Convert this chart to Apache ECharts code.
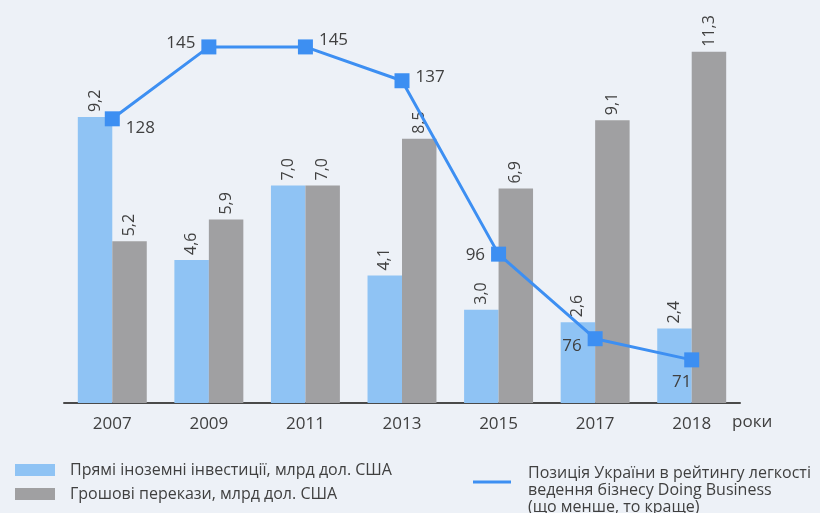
<!DOCTYPE html>
<html>
<head>
<meta charset="utf-8">
<script src="https://cdn.jsdelivr.net/npm/echarts@6/dist/echarts.min.js"></script>
<style>
  html, body { margin: 0; padding: 0; background: #edf1f7; }
  #chart { width: 820px; height: 513px; }
</style>
</head>
<body>
<div id="chart"></div>
<script>
  // роки
  const years = ["2007", "2009", "2011", "2013", "2015", "2017", "2018"];
  // прямі іноземні інвестиції, млрд дол. США
  const fdi = [9.2, 4.6, 7.0, 4.1, 3.0, 2.6, 2.4];
  // грошові перекази, млрд дол. США
  const remittances = [5.2, 5.9, 7.0, 8.5, 6.9, 9.1, 11.3];
  // позиція в рейтингу Doing Business
  const ranking = [128, 145, 145, 137, 96, 76, 71];

  const nameFdi = "Прямі іноземні інвестиції, млрд дол. США";
  const nameRem = "Грошові перекази, млрд дол. США";
  const nameRank = "Позиція України в рейтингу легкості\nведення бізнесу Doing Business\n(що менше, то краще)";

  const txt = "#404040";
  const font = "Open Sans";

  const comma = v => v.toFixed(1).replace(".", ",");

  const barLabel = {
    show: true,
    position: "top",
    rotate: 90,
    align: "left",
    verticalAlign: "middle",
    distance: 5,
    color: txt,
    fontFamily: font,
    fontSize: 16,
    formatter: p => comma(p.value),
  };

  // розміщення підписів лінії біля маркерів
  const lineLabelPos = [
    { position: "right", offset: [0, 9] },
    { position: "left", offset: [0, -4] },
    { position: "right", offset: [0, -7] },
    { position: "right", offset: [0, -4] },
    { position: "left", offset: [0, 1] },
    { position: "left", offset: [0, 7] },
    { position: "bottom", offset: [-10, 0] },
  ];

  const legendText = { color: txt, fontSize: 16, fontFamily: font };
  const barLegend = (name, top) => ({
    left: 10,
    top: top,
    itemWidth: 40,
    itemHeight: 12,
    itemGap: 0,
    icon: "rect",
    data: [name],
    textStyle: Object.assign({ padding: [0, 0, 0, 10] }, legendText),
  });

  const chart = echarts.init(document.getElementById("chart"));
  chart.setOption({
    backgroundColor: "#edf1f7",
    animation: false,
    textStyle: { fontFamily: font },
    grid: { left: 64, right: 80, top: 30, bottom: 110, containLabel: false },
    legend: [
      barLegend(nameFdi, 457),
      barLegend(nameRem, 481),
      {
        left: 468,
        top: 443,
        itemWidth: 38,
        itemHeight: 3,
        icon: "rect",
        data: [nameRank],
        formatter: n => "\n" + n,
        textStyle: Object.assign({ lineHeight: 17, padding: [0, 0, 0, 12] }, legendText),
      },
    ],
    xAxis: {
      type: "category",
      data: years,
      axisLine: { lineStyle: { color: "#4a4a4a", width: 2 } },
      axisTick: { show: false },
      axisLabel: { color: txt, fontSize: 17, fontFamily: font, margin: 13 },
    },
    yAxis: [
      { type: "value", min: 0, max: 12, show: false },
      { type: "value", min: 60.8, max: 149, show: false },
    ],
    graphic: [
      {
        type: "text",
        left: 732,
        top: 414,
        style: { text: "роки", fill: txt, fontSize: 17, fontFamily: font },
      },
    ],
    series: [
      {
        name: nameFdi,
        type: "bar",
        data: fdi,
        barGap: "0%",
        barCategoryGap: "28.6%",
        itemStyle: { color: "#8fc3f4" },
        label: barLabel,
      },
      {
        name: nameRem,
        type: "bar",
        data: remittances,
        itemStyle: { color: "#a0a0a2" },
        label: barLabel,
      },
      {
        name: nameRank,
        type: "line",
        yAxisIndex: 1,
        data: ranking.map((v, i) => ({ value: v, label: lineLabelPos[i] })),
        symbol: "rect",
        symbolSize: 15,
        z: 5,
        lineStyle: { color: "#3d8ff2", width: 3 },
        itemStyle: { color: "#3d8ff2" },
        label: {
          show: true,
          color: txt,
          fontSize: 17,
          fontFamily: font,
          distance: 6,
        },
      },
    ],
  });
</script>
</body>
</html>
